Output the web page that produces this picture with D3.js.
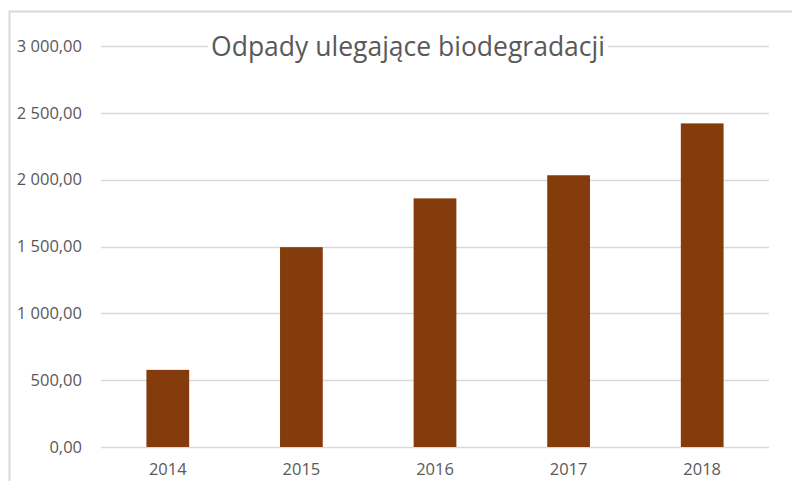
<!DOCTYPE html>
<html>
<head>
<meta charset="utf-8">
<script src="https://cdn.jsdelivr.net/npm/d3@7"></script>
<style>
  body { margin: 0; background: #fff; }
  svg text { font-family: "Open Sans", "Noto Sans", sans-serif; fill: #595959; }
</style>
</head>
<body>
<div id="chart"></div>
<script>
const years = ['2014', '2015', '2016', '2017', '2018'];
const values = [577, 1495, 1860, 2033, 2421];
const yTicks = [0, 500, 1000, 1500, 2000, 2500, 3000];
const title = 'Odpady ulegające biodegradacji';

const width = 792, height = 481;
const margin = { top: 46, right: 23, bottom: 34, left: 101 };
const innerW = width - margin.left - margin.right;
const innerH = height - margin.top - margin.bottom;

const svg = d3.select('#chart').append('svg')
    .attr('width', width)
    .attr('height', height);

// outer frame (only top and left show in the picture)
svg.append('path')
    .attr('d', `M9.5,${height} V11.5 H${width}`)
    .attr('fill', 'none')
    .attr('stroke', '#d9d9d9')
    .attr('stroke-width', 2);

const g = svg.append('g')
    .attr('transform', `translate(${margin.left},${margin.top})`);

const x = d3.scaleBand()
    .domain(years)
    .range([0, innerW])
    .paddingInner(0.68)
    .paddingOuter(0.34);

const y = d3.scaleLinear()
    .domain([0, 3000])
    .range([innerH, 0]);

const fmt = v => d3.format(',.2f')(v).replace(/,/g, ' ').replace('.', ',');

// gridlines
g.selectAll('.grid')
    .data(yTicks)
    .join('line')
    .attr('class', 'grid')
    .attr('x1', 0)
    .attr('x2', innerW)
    .attr('y1', d => Math.round(y(d)) + 0.5)
    .attr('y2', d => Math.round(y(d)) + 0.5)
    .attr('stroke', '#d9d9d9')
    .attr('stroke-width', 1.5);

// y axis labels
g.selectAll('.ylab')
    .data(yTicks)
    .join('text')
    .attr('class', 'ylab')
    .attr('x', -19)
    .attr('y', d => y(d))
    .attr('dy', '0.35em')
    .attr('text-anchor', 'end')
    .style('font-size', '16.5px')
    .text(fmt);

// bars
g.selectAll('.bar')
    .data(values)
    .join('rect')
    .attr('class', 'bar')
    .attr('x', (d, i) => x(years[i]))
    .attr('y', d => y(d))
    .attr('width', x.bandwidth())
    .attr('height', d => innerH - y(d))
    .attr('fill', '#843c0c');

// x labels
g.selectAll('.xlab')
    .data(years)
    .join('text')
    .attr('class', 'xlab')
    .attr('x', d => x(d) + x.bandwidth() / 2)
    .attr('y', innerH + 22)
    .attr('dy', '0.35em')
    .attr('text-anchor', 'middle')
    .style('font-size', '16.5px')
    .text(d => d);

// title with white box over the top gridline
const tg = svg.append('g');
const t = tg.append('text')
    .attr('x', 408)
    .attr('y', 47)
    .attr('dy', '0.35em')
    .attr('text-anchor', 'middle')
    .style('font-size', '26.5px')
    .text(title);
const bb = t.node().getBBox();
tg.insert('rect', 'text')
    .attr('x', bb.x - 3)
    .attr('y', bb.y + 4)
    .attr('width', bb.width + 6)
    .attr('height', bb.height - 8)
    .attr('fill', '#fff');
</script>
</body>
</html>
